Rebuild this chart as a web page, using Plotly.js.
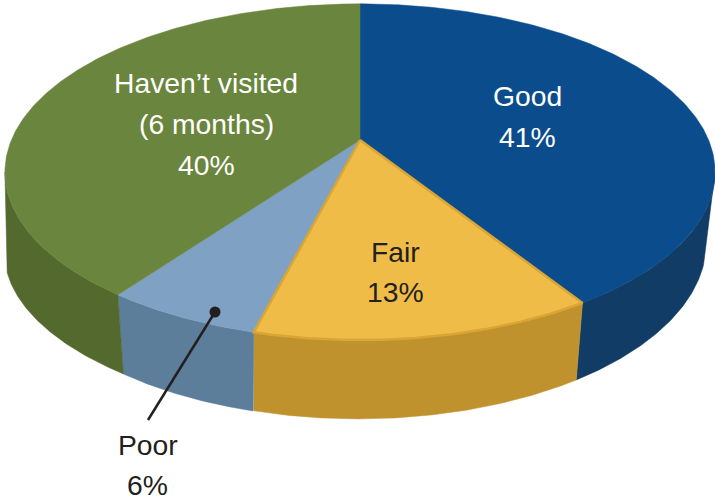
<!DOCTYPE html>
<html>
<head>
<meta charset="utf-8">
<script src="https://cdn.plot.ly/plotly-3.0.1.min.js"></script>
<style>html,body{margin:0;padding:0;background:#fff}#chart{width:715px;height:502px}</style>
</head>
<body>
<div id="chart"></div>
<script>
// Data
const categories = ["Good", "Fair", "Poor", "Haven’t visited (6 months)"];
const values = [41, 13, 6, 40];
const topColors = ["#0B4D8C", "#F0BC48", "#7EA1C4", "#6A853D"];
const sideColors = ["#113C66", "#BF922E", "#5D7E9B", "#54692D"];

// Perspective model of the tilted disc
const K = 0.19;
const topDisc = {cx: 360, cy: 140, a: 348.6, b: 162};
const rightBottom = {cx: 358, cy: 209, a: 342, b: 170};
const poorBottom = {cx: 354.6, cy: 221, a: 333, b: 160};
const leftBottom = {cx: 379, cy: 220, a: 368, b: 161};
const bottomDiscs = [rightBottom, rightBottom, poorBottom, leftBottom];
function project(d, deg) {
  const t = deg * Math.PI / 180, u = Math.sin(t), v = Math.cos(t), w = 1 + K * v;
  return [d.cx + d.a * u / w, d.cy - d.b * v / w];
}
function arc(d, from, to) {
  const n = Math.max(2, Math.ceil(Math.abs(to - from) * 2)), pts = [];
  for (let i = 0; i <= n; i++) pts.push(project(d, from + (to - from) * i / n));
  return pts;
}
function polygon(pts, fill, lineColor, lineWidth) {
  return {
    type: "scatter", mode: "lines", hoverinfo: "skip", showlegend: false,
    x: pts.map(p => p[0]), y: pts.map(p => p[1]),
    fill: "toself", fillcolor: fill,
    line: {color: lineColor, width: lineWidth, shape: "linear"}
  };
}

// Cumulative slice angles, clockwise from the top
const total = values.reduce((s, v) => s + v, 0);
let acc = 0;
const slices = values.map((v, i) => {
  const start = acc / total * 360; acc += v;
  return {i, start, end: acc / total * 360};
});

// Walls: only the front-facing part of the rim is visible
const rimRight = [101, 108], rimLeft = [259, 252];
const walls = slices.map(s => {
  let topFrom = s.start, topTo = s.end, botFrom = s.start, botTo = s.end;
  if (s.start < rimRight[0]) { topFrom = rimRight[0]; botFrom = rimRight[1]; }
  if (s.end > rimLeft[0]) { topTo = rimLeft[0]; botTo = rimLeft[1]; }
  const pts = arc(topDisc, topFrom, topTo).concat(arc(bottomDiscs[s.i], botTo, botFrom));
  pts.push(pts[0]);
  return polygon(pts, sideColors[s.i], sideColors[s.i], 0.5);
});

// Top faces
const apex = [topDisc.cx, topDisc.cy];
const faces = slices.map(s => {
  const pts = [apex].concat(arc(topDisc, s.start, s.end)); pts.push(apex);
  const isFair = categories[s.i] === "Fair";
  return polygon(pts, topColors[s.i], isFair ? "#D9A534" : topColors[s.i], isFair ? 2.5 : 0.5);
});
const fairIndex = categories.indexOf("Fair");
const faceOrder = faces.filter((f, i) => i !== fairIndex).concat([faces[fairIndex]]);

// Leader line for the Poor slice
const leaderX = [215, 148];
const leaderY = [312, 420];
const leader = {
  type: "scatter", mode: "lines", hoverinfo: "skip", showlegend: false,
  x: leaderX, y: leaderY,
  line: {color: "#231F20", width: 2.5}
};
const leaderDot = {
  type: "scatter", mode: "markers", hoverinfo: "skip", showlegend: false,
  x: leaderX.slice(0, 1), y: leaderY.slice(0, 1),
  marker: {color: "#231F20", size: 11, line: {width: 0}}
};

// Labels, one annotation per text line
const FS = 28.3;
function label(text, x, y, color) {
  return {text, x, y, xref: "x", yref: "y", showarrow: false, xanchor: "center", yanchor: "middle",
    font: {family: "Liberation Sans, Arial, sans-serif", size: FS, color}};
}
const annotations = [
  label("Haven’t visited", 206, 83, "#FFFFFF"),
  label("(6 months)", 206, 124, "#FFFFFF"),
  label(values[3] + "%", 206, 165, "#FFFFFF"),
  label(categories[0], 527, 96, "#FFFFFF"),
  label(values[0] + "%", 527, 137, "#FFFFFF"),
  label(categories[1], 395, 252, "#231F20"),
  label(values[1] + "%", 395, 292, "#231F20"),
  label(categories[2], 148, 445, "#231F20"),
  label(values[2] + "%", 147, 485, "#231F20")
];

Plotly.newPlot("chart", walls.concat(faceOrder, [leader, leaderDot]), {
  width: 715, height: 502,
  margin: {l: 0, r: 0, t: 0, b: 0},
  paper_bgcolor: "#FFFFFF", plot_bgcolor: "#FFFFFF",
  showlegend: false,
  xaxis: {range: [0, 715], visible: false, fixedrange: true},
  yaxis: {range: [502, 0], visible: false, fixedrange: true},
  annotations
}, {displayModeBar: false, staticPlot: true});
</script>
</body>
</html>
